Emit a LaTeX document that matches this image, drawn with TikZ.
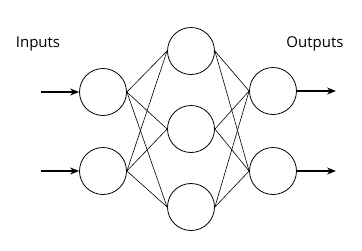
\documentclass[tikz,border=0pt]{standalone}
\usepackage{fontspec}
\setmainfont{Open Sans}
\usetikzlibrary{shapes,arrows.meta,positioning,calc}

\tikzset{
  neuron/.style={circle, draw=black, line width=0.8pt, minimum size=47pt, inner sep=0pt},
  synapse/.style={draw=black, line width=0.6pt},
  signal/.style={draw=black, line width=1.4pt, -{Stealth[length=9pt,width=7pt]}},
  caption/.style={font=\fontsize{15}{18}\selectfont, anchor=base}
}

\begin{document}
\begin{tikzpicture}[x=1pt, y=-1pt]
    \useasboundingbox (0,0) rectangle (362,250);

    % layers
    \node[neuron] (in1) at (103,92) {};
    \node[neuron] (in2) at (103,171) {};
    \node[neuron] (hid1) at (191,51) {};
    \node[neuron] (hid2) at (191,129) {};
    \node[neuron] (hid3) at (191,207) {};
    \node[neuron] (out1) at (273,91) {};
    \node[neuron] (out2) at (273,171) {};

    % labels
    \node[caption] (lblin) at (38,47) {Inputs};
    \node[caption] (lblout) at (315,47) {Outputs};

    % connections
    \foreach \i in {1,2} {
        \foreach \h in {1,2,3} {
            \draw[synapse] (in\i.east) -- (hid\h.west);
            \draw[synapse] (hid\h.east) -- (out\i.west);
        }
    }

    % input and output signals
    \coordinate (src1) at (41,92);
    \coordinate (src2) at (41,171);
    \coordinate (dst1) at (336,91);
    \coordinate (dst2) at (336,171);
    \draw[signal] (src1) -- (in1.west);
    \draw[signal] (src2) -- (in2.west);
    \draw[signal] (out1.east) -- (dst1);
    \draw[signal] (out2.east) -- (dst2);
\end{tikzpicture}
\end{document}
